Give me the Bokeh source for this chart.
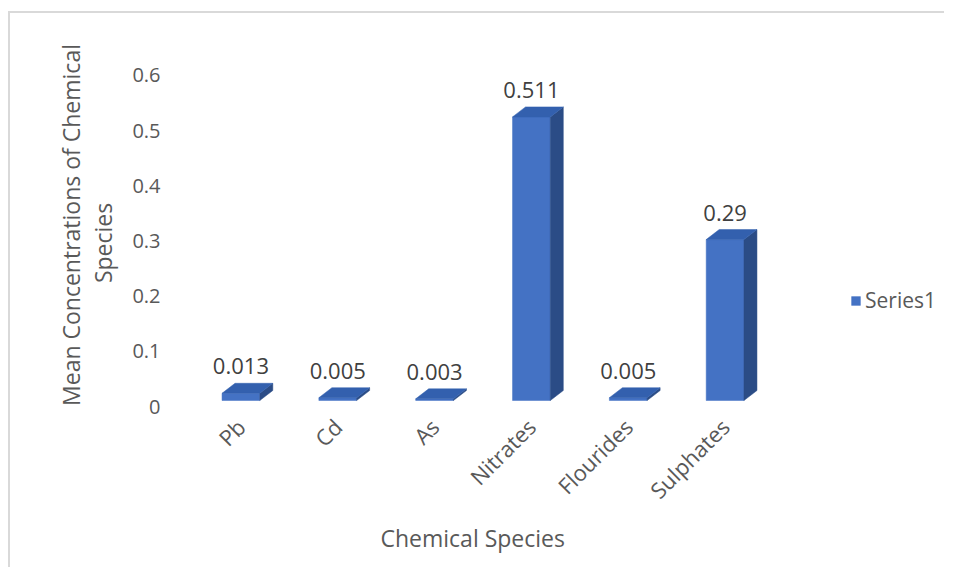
from bokeh.plotting import figure
from bokeh.models import (Range1d, LinearAxis, FixedTicker, Legend,
                          LegendItem, ColumnDataSource, Title)
from bokeh.core.properties import value
from bokeh.embed import file_html
from bokeh.resources import INLINE
import math

# ---- data ----
species = ["Pb", "Cd", "As", "Nitrates", "Flourides", "Sulphates"]
values = [0.013, 0.005, 0.003, 0.511, 0.005, 0.29]
value_labels = ["0.013", "0.005", "0.003", "0.511", "0.005", "0.29"]
y_ticks = [0, 0.1, 0.2, 0.3, 0.4, 0.5, 0.6]
y_tick_labels = ["0", "0.1", "0.2", "0.3", "0.4", "0.5", "0.6"]
series_name = "Series1"
x_title = "Chemical Species"
y_title = "Mean Concentrations of Chemical\nSpecies      "

# ---- layout / style constants ----
W, H = 936, 556
B_LEFT, B_RIGHT, B_TOP, B_BOTTOM = 182, 10, 26, 159
FRAME_W = W - B_LEFT - B_RIGHT
FRAME_H = H - B_TOP - B_BOTTOM
CAT_PX = 581.0 / 6           # px per category slot
PX_PER_UNIT = 555.0          # bar scale
AX_PX_PER_UNIT = 551.7       # axis label scale
BASE_GAP = 10                # px from frame bottom to bar floor
AX_GAP = 4                   # px from frame bottom to axis zero
BAR_W = 0.39
DEPTH_X_PX, DEPTH_Y_PX = 13, 10
FONT = "Open Sans"
GREY = "#595959"
FRONT, SIDE, TOP = "#4472C4", "#2B4C86", "#3360AE"

y0 = -BASE_GAP / PX_PER_UNIT
p = figure(width=W, height=H,
           x_range=Range1d(0, FRAME_W / CAT_PX),
           y_range=Range1d(y0, y0 + FRAME_H / PX_PER_UNIT),
           output_backend="svg", toolbar_location=None,
           min_border_left=B_LEFT, min_border_right=B_RIGHT,
           min_border_top=B_TOP, min_border_bottom=B_BOTTOM,
           y_axis_location=None)
p.margin = (11, 0, 0, 8)
p.styles = {"border-top": "2px solid #d9d9d9", "border-left": "2px solid #d9d9d9"}
p.outline_line_color = None
p.grid.visible = False
p.background_fill_color = "white"

dx = DEPTH_X_PX / CAT_PX
dy = DEPTH_Y_PX / PX_PER_UNIT

xc = [i + 0.5 for i in range(len(species))]
left = [c - BAR_W / 2 for c in xc]
right = [c + BAR_W / 2 for c in xc]

front = p.quad(left=left, right=right, bottom=[0] * len(values), top=values,
               fill_color=FRONT, line_color=FRONT, line_width=0.5)

side_xs = [[r, r + dx, r + dx, r] for r in right]
side_ys = [[0, dy, v + dy, v] for v in values]
p.patches(side_xs, side_ys, fill_color=SIDE, line_color=SIDE, line_width=0.5)

top_xs = [[l, r, r + dx, l + dx] for l, r in zip(left, right)]
top_ys = [[v, v, v + dy, v + dy] for v in values]
p.patches(top_xs, top_ys, fill_color=TOP, line_color=TOP, line_width=0.5)

src = ColumnDataSource(dict(x=xc, y=[v + dy for v in values], t=value_labels))
p.text(x="x", y="y", text="t", source=src, text_align="center",
       text_baseline="bottom", y_offset=-9, text_font=value(FONT),
       text_font_size="22px", text_color="#404040")

# x axis (categories at slot centres)
xa = p.xaxis[0]
xa.ticker = FixedTicker(ticks=xc)
xa.major_label_overrides = {c: s for c, s in zip(xc, species)}
xa.axis_line_color = None
xa.major_tick_line_color = None
xa.minor_tick_line_color = None
xa.major_tick_out = 0
xa.major_label_orientation = math.pi / 4
xa.major_label_text_font = FONT
xa.major_label_text_font_size = "22px"
xa.major_label_text_color = GREY
xa.major_label_standoff = 12

# x title, aligned under the category slots
p.add_layout(Title(text=x_title, align="left", offset=188, text_font=FONT,
                   text_font_size="23px", text_font_style="normal",
                   text_color=GREY, standoff=3), "below")

# y axis on its own slightly shifted range
a0 = -AX_GAP / AX_PX_PER_UNIT
p.extra_y_ranges = {"ax": Range1d(a0, a0 + FRAME_H / AX_PX_PER_UNIT)}
ya = LinearAxis(y_range_name="ax", ticker=FixedTicker(ticks=y_ticks),
                major_label_overrides={t: s for t, s in zip(y_ticks, y_tick_labels)})
ya.axis_line_color = None
ya.major_tick_line_color = None
ya.minor_tick_line_color = None
ya.major_tick_out = 0
ya.major_label_standoff = 32
ya.major_label_text_font = FONT
ya.major_label_text_font_size = "20px"
ya.major_label_text_color = GREY
ya.axis_label = y_title
ya.axis_label_text_font = FONT
ya.axis_label_text_font_size = "23px"
ya.axis_label_text_font_style = "normal"
ya.axis_label_text_color = GREY
ya.axis_label_text_line_height = 1.0
ya.axis_label_standoff = 10
p.add_layout(ya, "left")

legend = Legend(items=[LegendItem(label=series_name, renderers=[front])],
                location=(658, 96), border_line_color=None,
                background_fill_alpha=0, glyph_width=11, glyph_height=11,
                label_text_font=FONT, label_text_font_size="21px",
                label_text_color=GREY, label_standoff=4, padding=8, margin=0)
p.add_layout(legend, "center")

open("out.html", "w").write(file_html(p, INLINE))
